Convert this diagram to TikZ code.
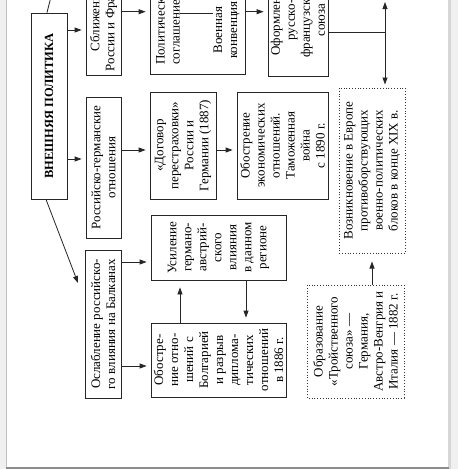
\documentclass[tikz,border=0pt]{standalone}
\usepackage{fontspec}
\setmainfont{Liberation Serif}
\usepackage{tikz}
\usetikzlibrary{arrows.meta,positioning,calc}

\begin{document}
\begin{tikzpicture}[
  x=1pt, y=-1pt,
  box/.style={draw=black!85, line width=0.8pt, rotate=90, align=center, inner sep=0pt, font=\fontsize{13}{15}\selectfont},
  dotbox/.style={box, draw=black!80, line width=1pt, dash pattern=on 1pt off 1.8pt},
  txt/.style={rotate=90, inner sep=0pt, font=\fontsize{13}{15}\selectfont},
  link/.style={draw=black!85, line width=0.8pt},
  arr/.style={link, -{Triangle[length=7pt,width=5pt]}, shorten >=4pt},
  dbl/.style={link, {Triangle[length=7pt,width=5pt]}-{Triangle[length=7pt,width=5pt]}, shorten >=3pt}
]
  \useasboundingbox (0,0) rectangle (458,469);
  \clip (0,0) rectangle (458,469);
  % page of the viewer
  \fill[black!6] (0,0) rectangle (458,469);
  \fill[white] (6.5,-5) rectangle (448,467.5);
  \fill[black!16] (448,-5) rectangle (450.5,468.5);
  \draw[black!25, line width=0.8pt] (6.4,-5) -- (6.4,467.5);
  \draw[black!45, line width=1.2pt] (6,468) -- (449,468);

  % boxes
  \node[box, minimum width=186pt, minimum height=36pt, font=\fontsize{12.5}{14}\selectfont\bfseries] (policy) at (49,106) {ВНЕШНЯЯ ПОЛИТИКА};
  \node[box, minimum width=110pt, minimum height=35pt] (rapproach) at (103.5,20) {Сближение\\России и Франции};
  \node[box, minimum width=141pt, minimum height=35pt] (rusger) at (103.5,167.5) {Российско-германские\\отношения};
  \node[box, minimum width=148pt, minimum height=36pt] (balkan) at (103,324) {Ослабление российско-\\го влияния на Балканах};
  \node[box, minimum width=120pt, minimum height=95pt] (accord) at (197.5,14) {};
  \node[txt, anchor=west, align=left] (polit) at (168,65) {Политическое\\соглашение};
  \node[txt, align=center] (milit) at (226.5,30) {Военная\\конвенция};
  \node[box, minimum width=112pt, minimum height=60pt] (alliance) at (298,20) {Оформление\\русско-\\французского\\союза};
  \node[box, minimum width=107pt, minimum height=66pt] (reins) at (183,145.5) {«Договор\\перестраховки»\\России и\\Германии (1887)};
  \node[box, minimum width=107pt, minimum height=91pt] (tariff) at (282.5,145.5) {Обострение\\экономических\\отношений.\\Таможенная\\война\\с 1890 г.};
  \node[box, minimum width=65pt, minimum height=135pt] (gain) at (218.5,247.5) {Усиление\\германо-\\австрий-\\ского\\влияния\\в данном\\регионе};
  \node[box, minimum width=74pt, minimum height=135pt] (bulg) at (218.5,360) {Обостре-\\ние отно-\\шений с\\Болгарией\\и разрыв\\диплома-\\тических\\отношений\\в 1886 г.};
  \node[dotbox, minimum width=165pt, minimum height=66pt] (blocs) at (372,170.5) {Возникновение в Европе\\противоборствующих\\военно-политических\\блоков в конце XIX в.};
  \node[dotbox, minimum width=113pt, minimum height=97pt] (triple) at (355.5,341.5) {Образование\\«Тройственного\\союза» —\\Германия,\\Австро-Венгрия и\\Италия — 1882 г.};

  \coordinate (ptop) at (57.7,-30);
  \coordinate (ptip) at (78,283);
  \coordinate (fork) at (385,32);
  \coordinate (up) at (385,2);

  % connectors
  \foreach \a/\b/\y in {policy/rapproach/30, policy/rusger/159, rapproach/accord/11.7, accord/alliance/11.7,
    rusger/reins/150, reins/tariff/150, balkan/gain/262, balkan/bulg/366} {
    \draw[arr] (\a.south |- 0,\y) -- (\b.north |- 0,\y);
  }
  \draw[link] (polit.south |- 0,13) -- (milit.north |- 0,13);
  \draw[link] ([xshift=-2pt]policy.east) -- (ptop);
  \draw[arr, shorten >=0pt] ([xshift=-3pt]policy.west) -- (ptip);
  \draw[arr, shorten >=7pt] (bulg.east -| 180,0) -- (gain.west -| 180,0);
  \draw[arr, shorten >=5pt] (gain.west -| 246,0) -- (bulg.east -| 246,0);
  \draw[arr, shorten >=8pt] (triple.east -| blocs) -- (blocs.west);
  \draw[link] (alliance.south |- fork) -- (fork);
  \draw[dbl] (up) -- (fork |- blocs.east);
\end{tikzpicture}
\end{document}
